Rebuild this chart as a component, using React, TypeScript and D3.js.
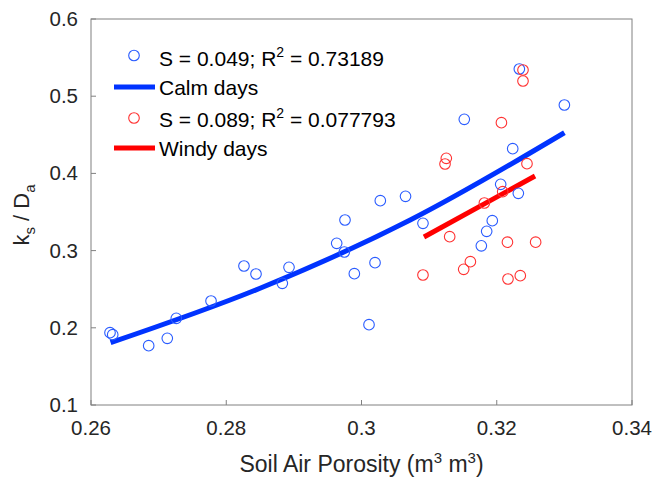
import React from "react";
import * as d3 from "d3";

const calmX = [0.26281, 0.26321, 0.26853, 0.27128, 0.27261, 0.27775, 0.28262, 0.2844, 0.28829, 0.28928, 0.29633, 0.29746, 0.29756, 0.29894, 0.30111, 0.302, 0.30278, 0.30651, 0.30909, 0.3152, 0.31772, 0.31851, 0.31934, 0.32058, 0.32236, 0.32319, 0.32334, 0.33];
const calmY = [0.19365, 0.19106, 0.17681, 0.1864, 0.21231, 0.23472, 0.28005, 0.26969, 0.25764, 0.27837, 0.30946, 0.29819, 0.33964, 0.27008, 0.20402, 0.28433, 0.36464, 0.37034, 0.33536, 0.47008, 0.30622, 0.325, 0.33873, 0.38588, 0.43199, 0.37422, 0.53523, 0.4886];

const windyX = [0.30909, 0.31235, 0.31254, 0.31304, 0.31511, 0.3161, 0.31817, 0.32069, 0.32088, 0.32158, 0.32166, 0.32348, 0.32388, 0.32388, 0.32447, 0.32575];
const windyY = [0.26839, 0.41218, 0.41956, 0.318, 0.27578, 0.28562, 0.36166, 0.46567, 0.3763, 0.31088, 0.26321, 0.26749, 0.53394, 0.51969, 0.41256, 0.31088];

const calmFitX = [0.2629, 0.285, 0.3072, 0.33];
const calmFitY = [0.1807, 0.2512, 0.3396, 0.4527];
const windyFitX = [0.30924, 0.32566];
const windyFitY = [0.3176, 0.3966];

const xTicks = [0.26, 0.28, 0.3, 0.32, 0.34];
const xTickLabels = ["0.26", "0.28", "0.3", "0.32", "0.34"];
const yTicks = [0.1, 0.2, 0.3, 0.4, 0.5, 0.6];
const yTickLabels = ["0.1", "0.2", "0.3", "0.4", "0.5", "0.6"];

const legendLabels = ["S = 0.049; R", "0.73189", "Calm days", "S = 0.089; R", "0.077793", "Windy days"];

const W = 654;
const H = 479;
const L = 91, R = 632, T = 19, B = 405;
const FONT = "'Liberation Sans', Arial, Helvetica, sans-serif";

export default function App() {
  const x = d3.scaleLinear().domain([0.26, 0.34]).range([L, R]);
  const y = d3.scaleLinear().domain([0.1, 0.6]).range([B, T]);
  const line = d3
    .line<[number, number]>()
    .x((d) => x(d[0]))
    .y((d) => y(d[1]))
    .curve(d3.curveMonotoneX);
  const calmFit = line(calmFitX.map((v, i) => [v, calmFitY[i]]) as [number, number][]) || "";
  const windyFit = line(windyFitX.map((v, i) => [v, windyFitY[i]]) as [number, number][]) || "";

  const blue = "#0033ff";
  const blueMk = "#2a5cff";
  const red = "#ff0000";
  const redMk = "#ff3333";
  const axisCol = "#808080";
  const txt = "#262626";

  return (
    <svg
      width={W}
      height={H}
      style={{ position: "absolute", left: 0, top: 0, background: "#fff" }}
      fontFamily={FONT}
    >
      <rect x={0} y={0} width={W} height={H} fill="#fff" />
      {/* fit lines */}
      <path d={calmFit} fill="none" stroke={blue} strokeWidth={5} />
      <path d={windyFit} fill="none" stroke={red} strokeWidth={5} />
      {/* points */}
      {calmX.map((v, i) => (
        <circle key={"c" + i} cx={x(v)} cy={y(calmY[i])} r={5.3} fill="none" stroke={blueMk} strokeWidth={1.1} />
      ))}
      {windyX.map((v, i) => (
        <circle key={"w" + i} cx={x(v)} cy={y(windyY[i])} r={5.3} fill="none" stroke={redMk} strokeWidth={1.1} />
      ))}
      {/* axes box */}
      <rect x={L} y={T} width={R - L} height={B - T} fill="none" stroke={axisCol} strokeWidth={1} />
      {xTicks.map((t, i) => (
        <g key={"xt" + i}>
          <line x1={x(t)} x2={x(t)} y1={B} y2={B - 5} stroke={axisCol} />
          <text x={x(t)} y={435} textAnchor="middle" fontSize={20.5} fill={txt}>
            {xTickLabels[i]}
          </text>
        </g>
      ))}
      {yTicks.map((t, i) => (
        <g key={"yt" + i}>
          <line x1={L} x2={L + 5} y1={y(t)} y2={y(t)} stroke={axisCol} />
          <text x={78} y={y(t) + 7} textAnchor="end" fontSize={20.5} fill={txt}>
            {yTickLabels[i]}
          </text>
        </g>
      ))}
      {/* axis labels */}
      <text x={(L + R) / 2} y={472} textAnchor="middle" fontSize={23} fill={txt}>
        Soil Air Porosity (m
        <tspan dy={-9} fontSize={15}>3</tspan>
        <tspan dy={9}> m</tspan>
        <tspan dy={-9} fontSize={15}>3</tspan>
        <tspan dy={9}>)</tspan>
      </text>
      <text transform={`translate(29,${(T + B) / 2 + 3}) rotate(-90)`} textAnchor="middle" fontSize={22} fill={txt}>
        k<tspan dy={6} fontSize={15}>s</tspan>
        <tspan dy={-6}> / D</tspan>
        <tspan dy={6} fontSize={15}>a</tspan>
      </text>
      {/* legend */}
      <circle cx={134} cy={55.5} r={5.3} fill="none" stroke={blueMk} strokeWidth={1.1} />
      <text x={159} y={66} fontSize={21} fill="#000">
        {legendLabels[0]}
        <tspan dy={-9} fontSize={14}>2</tspan>
        <tspan dy={9}> = {legendLabels[1]}</tspan>
      </text>
      <line x1={114} x2={155} y1={87} y2={87} stroke={blue} strokeWidth={5} />
      <text x={159} y={95} fontSize={21} fill="#000">
        {legendLabels[2]}
      </text>
      <circle cx={134} cy={118} r={5.3} fill="none" stroke={redMk} strokeWidth={1.1} />
      <text x={159} y={126.5} fontSize={21} fill="#000">
        {legendLabels[3]}
        <tspan dy={-9} fontSize={14}>2</tspan>
        <tspan dy={9}> = {legendLabels[4]}</tspan>
      </text>
      <line x1={114} x2={155} y1={148} y2={148} stroke={red} strokeWidth={5} />
      <text x={159} y={155.5} fontSize={21} fill="#000">
        {legendLabels[5]}
      </text>
    </svg>
  );
}
